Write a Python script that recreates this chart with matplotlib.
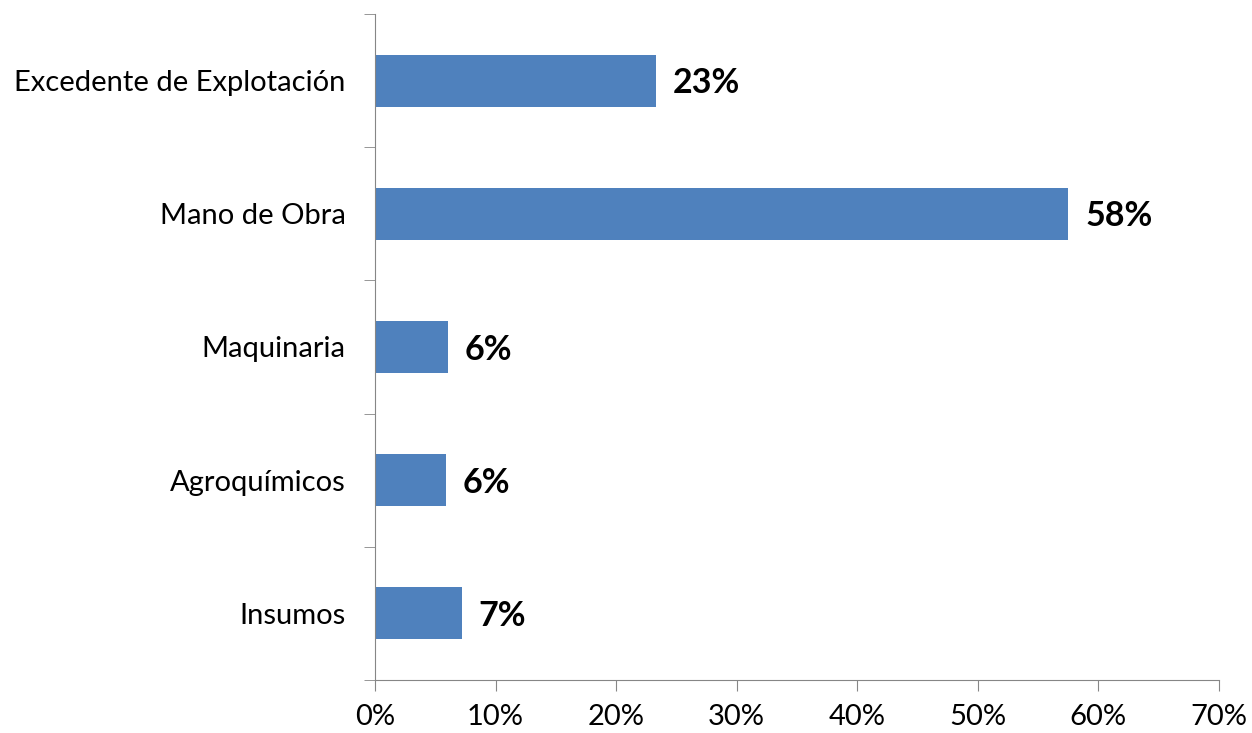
import matplotlib
matplotlib.use("Agg")
import matplotlib.pyplot as plt
from matplotlib.ticker import FixedLocator, PercentFormatter

# Data (top to bottom as drawn)
categories = ["Excedente de Explotación", "Mano de Obra", "Maquinaria", "Agroquímicos", "Insumos"]
shares = [23.3, 57.5, 6.05, 5.9, 7.2]
value_labels = ["23%", "58%", "6%", "6%", "7%"]

plt.rcParams["font.family"] = ["Lato", "DejaVu Sans"]

fig = plt.figure(figsize=(12.52, 7.33), dpi=100)
ax = fig.add_axes([0.2995, 0.0723, 0.6741, 0.9087])

n = len(categories)
ypos = list(range(n - 1, -1, -1))
bars = ax.barh(ypos, shares, height=0.39, color="#4F81BD")

for b, lab in zip(bars, value_labels):
    ax.text(b.get_width() + 1.4, b.get_y() + b.get_height() / 2 - 0.02, lab,
            va="center", ha="left", fontsize=24.5, fontweight="bold")

ax.set_xlim(0, 70)
ax.set_ylim(-0.5, n - 0.5)
ax.set_xticks(range(0, 71, 10))
ax.xaxis.set_major_formatter(PercentFormatter(decimals=0))

ax.set_yticks(ypos)
ax.set_yticklabels(categories)
ax.yaxis.set_minor_locator(FixedLocator([i - 0.5 for i in range(n + 1)]))
ax.tick_params(axis="y", which="major", length=0, pad=21, labelsize=21)
ax.tick_params(axis="y", which="minor", length=8, color="#868686", direction="out")
ax.tick_params(axis="x", length=8, color="#868686", direction="out", labelsize=21, pad=9)

for s in ["top", "right"]:
    ax.spines[s].set_visible(False)
for s in ["left", "bottom"]:
    ax.spines[s].set_color("#868686")

fig.savefig("out.png", dpi=100)
